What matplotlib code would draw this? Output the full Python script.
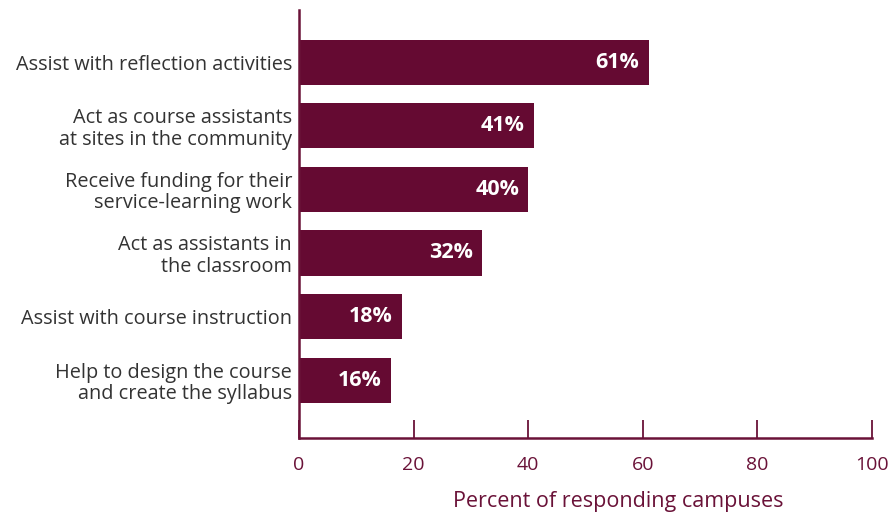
import matplotlib
matplotlib.use("Agg")
import matplotlib.pyplot as plt

categories = [
    "Assist with reflection activities",
    "Act as course assistants\nat sites in the community",
    "Receive funding for their\nservice-learning work",
    "Act as assistants in\nthe classroom",
    "Assist with course instruction",
    "Help to design the course\nand create the syllabus",
]
values = [61, 41, 40, 32, 18, 16]
xticks = [0, 20, 40, 60, 80, 100]
xlabel = "Percent of responding campuses"

bar_color = "#650a32"
axis_color = "#6a1238"
text_color = "#333333"

plt.rcParams['font.family'] = ['Open Sans', 'DejaVu Sans']

fig = plt.figure(figsize=(8.91, 5.12), dpi=100)
ax = fig.add_axes([299/891, (512-438)/512, (872-299)/891, (438-10)/512])

y = list(range(len(categories)))
ax.barh(y, values, height=0.71, color=bar_color)
for yi, v in zip(y, values):
    ax.text(v - 1.6, yi, f"{v}%", color="white", fontweight="bold",
            fontsize=15.5, ha="right", va="center")

ax.set_xlim(0, 100)
ax.set_ylim(len(categories) - 1 + 0.91, -0.82)
ax.set_yticks(y)
ax.set_yticklabels(categories, fontsize=14.3, color=text_color, ha="right",
                   linespacing=1.1)
ax.tick_params(axis="y", length=0, pad=5)
ax.set_xticks(xticks)
ax.set_xticklabels([str(t) for t in xticks], fontsize=14, color=axis_color)
ax.tick_params(axis="x", direction="in", length=13, width=1.3, color=axis_color, pad=13)
ax.set_xlabel(xlabel, fontsize=15.5, color=axis_color, labelpad=11)
ax.xaxis.set_label_coords(0.557, -0.125)

for s in ["top", "right"]:
    ax.spines[s].set_visible(False)
for s in ["left", "bottom"]:
    ax.spines[s].set_color(axis_color)
    ax.spines[s].set_linewidth(1.8)

fig.savefig("out.png", dpi=100)
